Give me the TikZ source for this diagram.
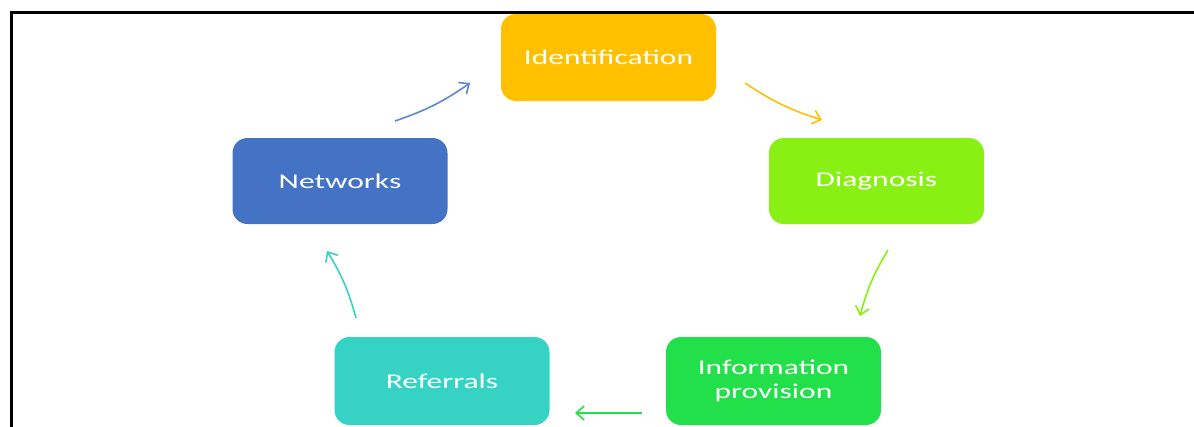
\documentclass[tikz,border=0pt]{standalone}
\usepackage{fontspec}
\setmainfont{Carlito}[FakeStretch=1.5]
\usetikzlibrary{arrows.meta}
\definecolor{cident}{HTML}{FFC000}
\definecolor{cdiag}{HTML}{88F012}
\definecolor{cnet}{HTML}{4472C4}
\definecolor{cref}{HTML}{36D3C5}
\definecolor{cinfo}{HTML}{22E04A}
\tikzset{
  stagebox/.style={rounded corners=15pt, minimum width=215pt, minimum height=87pt,
    inner sep=0pt, text=white, align=center, font=\fontsize{21}{23.5}\selectfont},
  cyclearrow/.style={line width=1.6pt, -{Straight Barb[length=8pt,width=14pt,line width=1.6pt]}},
}
\begin{document}
\begin{tikzpicture}[x=1pt,y=-1pt]
\useasboundingbox (0,0) rectangle (1194,426);
\fill[white] (0,0) rectangle (1194,426);
% frame
\draw[line width=3pt, line cap=rect] (11,440) -- (11,12) -- (1200,12);
% nodes
\node[stagebox, fill=cident] (ident) at (608.5,57.5) {Identification};
\node[stagebox, fill=cdiag, minimum height=86pt] (diag) at (876.5,181) {Diagnosis};
\node[stagebox, fill=cnet, minimum height=86pt] (net) at (340,181) {Networks};
\node[stagebox, fill=cinfo, minimum height=88pt] (info) at (773.5,381) {Information\\provision};
\node[stagebox, fill=cref, minimum height=88pt] (ref) at (442,381) {Referrals};
% arrow end points
\coordinate (a1s) at (395,121); \coordinate (a1e) at (470,83);
\coordinate (a2s) at (745,83);  \coordinate (a2e) at (822,120);
\coordinate (a3s) at (888,250); \coordinate (a3e) at (860,316);
\coordinate (a4s) at (642,413); \coordinate (a4e) at (575,413);
\coordinate (a5s) at (356,318); \coordinate (a5e) at (327,251);
\draw[cyclearrow, cnet!85!white] (a1s) to[bend right=8] (a1e);
\draw[cyclearrow, cident] (a2s) to[bend right=8] (a2e);
\draw[cyclearrow, cdiag] (a3s) to[bend right=8] (a3e);
\draw[cyclearrow, cinfo] (a4s) to (a4e);
\draw[cyclearrow, cref] (a5s) to[bend right=8] (a5e);
\end{tikzpicture}
\end{document}
